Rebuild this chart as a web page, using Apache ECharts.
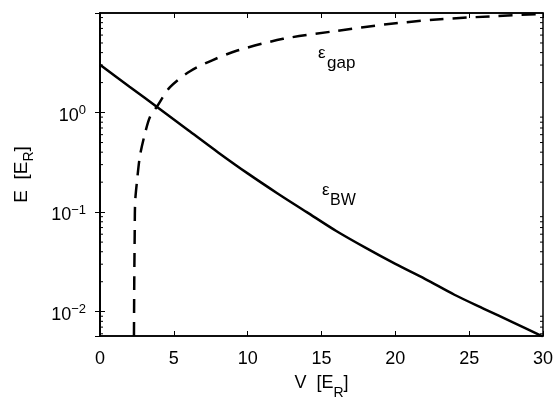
<!DOCTYPE html>
<html>
<head>
<meta charset="utf-8">
<script src="https://cdn.jsdelivr.net/npm/echarts@6/dist/echarts.min.js"></script>
<style>
  html, body { margin: 0; padding: 0; background: #fff; }
  #chart { width: 558px; height: 405px; }
</style>
</head>
<body>
<div id="chart"></div>
<script>
// values (V in E_R, energies in E_R)
const bwV = [0, 2, 4, 6, 8, 10, 12, 14, 16, 18, 20, 22, 24, 26, 28, 30];
const bwE = [3.02, 1.82, 1.10, 0.661, 0.398, 0.245, 0.155, 0.100, 0.0646, 0.0437, 0.0302, 0.0214, 0.0148, 0.0107, 0.00776, 0.00562];
const gapV = [2.30, 2.32, 2.35, 2.38, 2.5, 2.71, 3.05, 3.39, 3.86, 4.74, 6.1, 7.6, 9.3, 12.4, 16, 19.4, 22.8, 26.4, 30];
const gapE = [0.0057, 0.02, 0.06, 0.126, 0.2, 0.37, 0.62, 0.91, 1.15, 1.8, 2.6, 3.35, 4.2, 5.5, 6.6, 7.7, 8.6, 9.25, 9.8];
const xTicks = [0, 5, 10, 15, 20, 25, 30];
const yMin = 0.0057, yMax = 10;

const font = "'Liberation Sans', Arial, sans-serif";
const chart = echarts.init(document.getElementById("chart"));

const pairs = (xs, ys) => xs.map((x, i) => [x, ys[i]]);

const option = {
  animation: false,
  backgroundColor: "#fff",
  grid: { left: 100, right: 15, top: 13, bottom: 59, show: true, borderColor: "#000", borderWidth: 1.5 },
  xAxis: [
    {
      type: "value",
      min: xTicks[0],
      max: xTicks[xTicks.length - 1],
      interval: 5,
      name: "V  [E{sub|R}]",
      nameLocation: "middle",
      nameGap: 30,
      nameTextStyle: {
        fontFamily: font, fontSize: 18, color: "#000",
        rich: { sub: { fontFamily: font, fontSize: 14, color: "#000", padding: [20, 0, 0, 0] } },
      },
      axisLine: { lineStyle: { color: "#000", width: 1.5 } },
      axisTick: { inside: true, length: 5, lineStyle: { color: "#000" } },
      axisLabel: { fontFamily: font, fontSize: 18, color: "#000", margin: 14 },
      splitLine: { show: false },
    },
    {
      type: "value",
      position: "top",
      min: xTicks[0],
      max: xTicks[xTicks.length - 1],
      interval: 5,
      axisLine: { lineStyle: { color: "#000", width: 1.5 } },
      axisTick: { inside: true, length: 5, lineStyle: { color: "#000" } },
      axisLabel: { show: false },
      splitLine: { show: false },
    },
  ],
  yAxis: [
    {
      type: "log",
      logBase: 10,
      min: yMin,
      max: yMax,
      name: "E  [E{sub|R}]",
      nameLocation: "middle",
      nameGap: 64,
      nameTextStyle: {
        fontFamily: font, fontSize: 19, color: "#000",
        rich: { sub: { fontFamily: font, fontSize: 14, color: "#000", padding: [14, 0, 0, 0] } },
      },
      axisLine: { show: true, lineStyle: { color: "#000", width: 1.5 } },
      axisTick: { inside: true, length: 5, lineStyle: { color: "#000" } },
      axisLabel: {
        showMinLabel: false,
        showMaxLabel: false,
        margin: 14,
        padding: [6, 0, 0, 0],
        fontFamily: font, fontSize: 18, color: "#000",
        formatter: (v) => {
          const e = Math.log10(v);
          if (Math.abs(e - Math.round(e)) > 1e-6 || Math.round(e) > 0) return "";
          return "10{sup|" + (Math.round(e) === 0 ? "0" : "\u2212" + (-Math.round(e))) + "}";
        },
        rich: { sup: { fontFamily: font, fontSize: 13, color: "#000", padding: [0, 0, 10, 0] } },
      },
      splitLine: { show: false },
    },
    {
      type: "log",
      logBase: 10,
      position: "right",
      min: yMin,
      max: yMax,
      axisLine: { show: true, lineStyle: { color: "#000", width: 1.5 } },
      axisTick: { inside: true, length: 5, lineStyle: { color: "#000" } },
      axisLabel: { show: false },
      splitLine: { show: false },
    },
  ],
  series: [
    {
      name: "BW",
      type: "line",
      data: pairs(bwV, bwE),
      smooth: 0.3,
      showSymbol: false,
      lineStyle: { color: "#000", width: 2.5 },
    },
    {
      name: "gap",
      type: "line",
      data: pairs(gapV, gapE),
      smooth: 0.3,
      showSymbol: false,
      lineStyle: { color: "#000", width: 2.5, type: [14, 9] },
    },
  ],
};
chart.setOption(option);

// log-axis minor ticks at 2..9 x 10^n, placed through the axis scale
const minor = [];
for (let d = -3; d <= 1; d++) {
  for (let k = 2; k <= 9; k++) {
    const v = k * Math.pow(10, d);
    if (v <= yMin || v >= yMax) continue;
    const y = chart.convertToPixel({ yAxisIndex: 0 }, v);
    minor.push({ type: "line", shape: { x1: 100, y1: y, x2: 103, y2: y }, style: { stroke: "#000", lineWidth: 1 } });
    minor.push({ type: "line", shape: { x1: 540, y1: y, x2: 543, y2: y }, style: { stroke: "#000", lineWidth: 1 } });
  }
}
const labels = [
  { type: "text", left: 318, top: 45, style: { text: "\u03b5", font: "17px " + font, fill: "#000" } },
  { type: "text", left: 327, top: 55, style: { text: "gap", font: "17px " + font, fill: "#000" } },
  { type: "text", left: 322, top: 182, style: { text: "\u03b5", font: "17px " + font, fill: "#000" } },
  { type: "text", left: 330, top: 193, style: { text: "BW", font: "16px " + font, fill: "#000" } },
];
chart.setOption({ graphic: minor.concat(labels) });
</script>
</body>
</html>
